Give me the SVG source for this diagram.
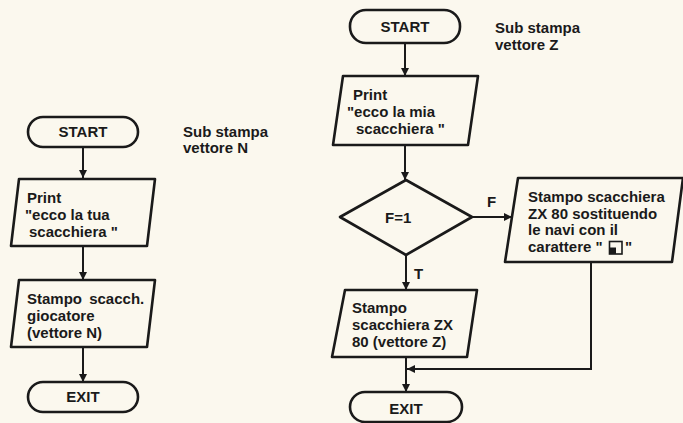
<svg xmlns="http://www.w3.org/2000/svg" width="683" height="423" viewBox="0 0 683 423">
<defs>
<style>
.bg{fill:#fbf8ee}
.shape{fill:none;stroke:#1a1a1a;stroke-width:2.6;stroke-linejoin:round}
.conn{fill:none;stroke:#1a1a1a;stroke-width:2}
text{font-family:"Liberation Sans",Arial,Helvetica,sans-serif;font-weight:bold;font-size:15px;fill:#1a1a1a}
.c{text-anchor:middle}
</style>
<marker id="arr" viewBox="0 0 10 10" refX="10" refY="5" markerWidth="10" markerHeight="8" markerUnits="userSpaceOnUse" orient="auto">
<path d="M0,0 L10,5 L0,10 Z" fill="#1a1a1a"/>
</marker>
</defs>
<rect class="bg" x="0" y="0" width="683" height="423"/>

<g id="connectors">
<line class="conn" x1="83" y1="147" x2="83" y2="178" marker-end="url(#arr)"/>
<line class="conn" x1="83" y1="246" x2="83" y2="280" marker-end="url(#arr)"/>
<line class="conn" x1="83" y1="347" x2="83" y2="382" marker-end="url(#arr)"/>
<line class="conn" x1="405" y1="43" x2="405" y2="76" marker-end="url(#arr)"/>
<line class="conn" x1="405" y1="145" x2="405" y2="180" marker-end="url(#arr)"/>
<line class="conn" x1="472" y1="217" x2="512" y2="217" marker-end="url(#arr)"/>
<line class="conn" x1="406" y1="255" x2="406" y2="290" marker-end="url(#arr)"/>
<line class="conn" x1="406" y1="357" x2="406" y2="392" marker-end="url(#arr)"/>
<polyline class="conn" points="591,262 591,369 407,369" marker-end="url(#arr)"/>
<text x="487" y="207">F</text>
<text x="414" y="279">T</text>
</g>

<g id="start-n">
<rect class="shape" x="28" y="117" width="110" height="30" rx="15"/>
<text class="c" x="83" y="137">START</text>
</g>
<g id="label-n">
<text x="183" y="137">Sub stampa</text>
<text x="183" y="153">vettore N</text>
</g>
<g id="print-n">
<polygon class="shape" points="19,179 155,179 147,246 11,246"/>
<text x="27" y="203">Print</text>
<text x="25" y="220">"ecco la tua</text>
<text x="29" y="237">scacchiera "</text>
</g>
<g id="stampo-n">
<polygon class="shape" points="19,280 155,280 147,347 11,347"/>
<text x="27" y="304" word-spacing="3">Stampo scacch.</text>
<text x="27" y="321">giocatore</text>
<text x="27" y="338">(vettore N)</text>
</g>
<g id="exit-n">
<rect class="shape" x="28" y="382" width="110" height="30" rx="15"/>
<text class="c" x="83" y="402">EXIT</text>
</g>

<g id="start-z">
<rect class="shape" x="350" y="10" width="110" height="33" rx="16"/>
<text class="c" x="405" y="32">START</text>
</g>
<g id="label-z">
<text x="495" y="33">Sub stampa</text>
<text x="495" y="50">vettore Z</text>
</g>
<g id="print-z">
<polygon class="shape" points="343,76 478,76 468,145 333,145"/>
<text x="353" y="100">Print</text>
<text x="347" y="117">"ecco la mia</text>
<text x="356" y="134">scacchiera "</text>
</g>
<g id="decision">
<polygon class="shape" points="406,180 472,217 406,255 340,217"/>
<text x="385" y="223">F=1</text>
</g>
<g id="stampo-zx">
<polygon class="shape" points="518,178 683,178 672,262 505,262"/>
<text x="528" y="202">Stampo scacchiera</text>
<text x="528" y="219">ZX 80 sostituendo</text>
<text x="528" y="235">le navi con il</text>
<text x="528" y="252">carattere "</text>
<rect x="609.5" y="241.5" width="12.5" height="12.5" fill="none" stroke="#1a1a1a" stroke-width="1.6"/>
<rect x="609.5" y="247.5" width="6.5" height="6.5" fill="#1a1a1a"/>
<text x="625" y="252">"</text>
</g>
<g id="stampo-z">
<polygon class="shape" points="345,290 477,290 467,357 332,357"/>
<text x="352" y="313">Stampo</text>
<text x="352" y="330">scacchiera ZX</text>
<text x="352" y="347">80 (vettore Z)</text>
</g>
<g id="exit-z">
<rect class="shape" x="350" y="392" width="112" height="30" rx="15"/>
<text class="c" x="406" y="414">EXIT</text>
</g>
</svg>
